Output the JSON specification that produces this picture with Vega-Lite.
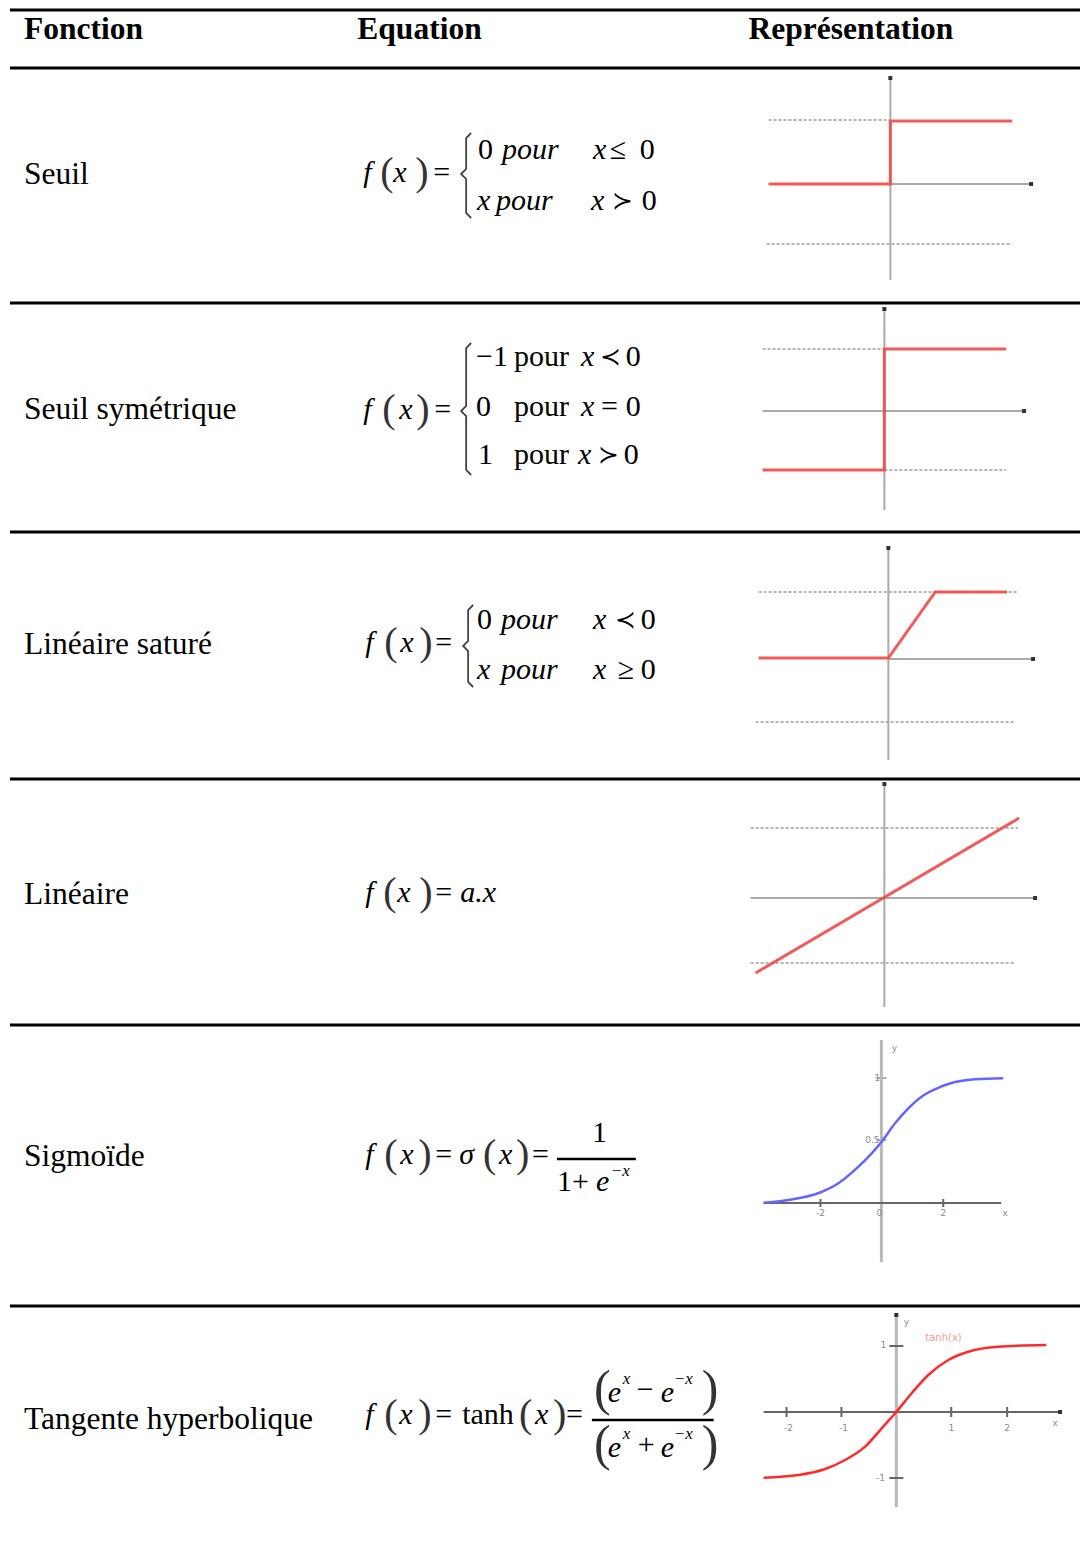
{
  "$schema": "https://vega.github.io/schema/vega-lite/v6.json",
  "width": 1082,
  "height": 1545,
  "autosize": {"type": "fit", "contains": "padding"},
  "padding": 0,
  "background": "white",
  "config": {"view": {"stroke": null}},
  "datasets": {
    "hrules": [
      {"x": 10, "x2": 1082, "y": 10},
      {"x": 10, "x2": 1082, "y": 68},
      {"x": 10, "x2": 1082, "y": 303},
      {"x": 10, "x2": 1082, "y": 532},
      {"x": 10, "x2": 1082, "y": 779},
      {"x": 10, "x2": 1082, "y": 1025},
      {"x": 10, "x2": 1082, "y": 1306}
    ],
    "axesLight": [
      {"x": 892, "y": 78, "x2": 892, "y2": 280},
      {"x": 892, "y": 184, "x2": 1033, "y2": 184},
      {"x": 886, "y": 308, "x2": 886, "y2": 510},
      {"x": 764, "y": 411, "x2": 1026, "y2": 411},
      {"x": 890, "y": 547, "x2": 890, "y2": 760},
      {"x": 890, "y": 659, "x2": 1035, "y2": 659},
      {"x": 886, "y": 783, "x2": 886, "y2": 1007},
      {"x": 752, "y": 898, "x2": 1037, "y2": 898},
      {"x": 878, "y": 1078, "x2": 888, "y2": 1078},
      {"x": 878, "y": 1140, "x2": 888, "y2": 1140}
    ],
    "axesThick": [
      {"x": 883, "y": 1040, "x2": 883, "y2": 1262},
      {"x": 898, "y": 1313, "x2": 898, "y2": 1507}
    ],
    "axesDark": [
      {"x": 765, "y": 1203, "x2": 1003, "y2": 1203},
      {"x": 822, "y": 1199, "x2": 822, "y2": 1207},
      {"x": 945, "y": 1199, "x2": 945, "y2": 1207},
      {"x": 765, "y": 1412, "x2": 1062, "y2": 1412},
      {"x": 788, "y": 1407, "x2": 788, "y2": 1417},
      {"x": 843, "y": 1407, "x2": 843, "y2": 1417},
      {"x": 953, "y": 1407, "x2": 953, "y2": 1417},
      {"x": 1009, "y": 1407, "x2": 1009, "y2": 1417},
      {"x": 891, "y": 1346, "x2": 905, "y2": 1346},
      {"x": 891, "y": 1478, "x2": 905, "y2": 1478}
    ],
    "dashed": [
      {"x": 770, "y": 120, "x2": 891, "y2": 120},
      {"x": 768, "y": 244, "x2": 1014, "y2": 244},
      {"x": 764, "y": 349, "x2": 886, "y2": 349},
      {"x": 886, "y": 470, "x2": 1008, "y2": 470},
      {"x": 760, "y": 592, "x2": 1020, "y2": 592},
      {"x": 757, "y": 722, "x2": 1017, "y2": 722},
      {"x": 752, "y": 828, "x2": 1020, "y2": 828},
      {"x": 752, "y": 963, "x2": 1017, "y2": 963}
    ],
    "fracs": [
      {"x": 558, "y": 1159, "x2": 637, "y2": 1159},
      {"x": 593, "y": 1420, "x2": 715, "y2": 1420}
    ],
    "tips": [
      {"x": 892, "y": 78}, {"x": 1033, "y": 184},
      {"x": 886, "y": 309}, {"x": 1026, "y": 411},
      {"x": 890, "y": 548}, {"x": 1035, "y": 659},
      {"x": 886, "y": 784}, {"x": 1037, "y": 898},
      {"x": 1062, "y": 1412}, {"x": 898, "y": 1315}
    ],
    "steps": [
      {"g": "c1", "i": 0, "x": 770, "y": 184},
      {"g": "c1", "i": 1, "x": 892, "y": 184},
      {"g": "c1", "i": 2, "x": 892, "y": 121},
      {"g": "c1", "i": 3, "x": 1014, "y": 121},
      {"g": "c2", "i": 0, "x": 764, "y": 470},
      {"g": "c2", "i": 1, "x": 886, "y": 470},
      {"g": "c2", "i": 2, "x": 886, "y": 349},
      {"g": "c2", "i": 3, "x": 1008, "y": 349},
      {"g": "c3", "i": 0, "x": 760, "y": 658},
      {"g": "c3", "i": 1, "x": 890, "y": 658},
      {"g": "c3", "i": 2, "x": 937, "y": 592},
      {"g": "c3", "i": 3, "x": 1009, "y": 592},
      {"g": "c4", "i": 0, "x": 757, "y": 973},
      {"g": "c4", "i": 1, "x": 1021, "y": 818}
    ],
    "sigmoid": [
      {"i": 0, "x": 765, "y": 1202.7},
      {"i": 1, "x": 793.3, "y": 1199.5},
      {"i": 2, "x": 821.7, "y": 1192.5},
      {"i": 3, "x": 840, "y": 1183.3},
      {"i": 4, "x": 860, "y": 1166.7},
      {"i": 5, "x": 873.3, "y": 1153.3},
      {"i": 6, "x": 883.3, "y": 1141.7},
      {"i": 7, "x": 896.7, "y": 1123.3},
      {"i": 8, "x": 910, "y": 1108.3},
      {"i": 9, "x": 923.3, "y": 1096.7},
      {"i": 10, "x": 936.7, "y": 1089.3},
      {"i": 11, "x": 950, "y": 1084},
      {"i": 12, "x": 976.7, "y": 1079.3},
      {"i": 13, "x": 1005, "y": 1078.3}
    ],
    "tanh": [
      {"i": 0, "x": 765, "y": 1477.7},
      {"i": 1, "x": 800, "y": 1475},
      {"i": 2, "x": 826.7, "y": 1469},
      {"i": 3, "x": 846.7, "y": 1460},
      {"i": 4, "x": 866.7, "y": 1446.7},
      {"i": 5, "x": 883.3, "y": 1428.3},
      {"i": 6, "x": 897.7, "y": 1412.3},
      {"i": 7, "x": 913.3, "y": 1393.3},
      {"i": 8, "x": 930, "y": 1375},
      {"i": 9, "x": 950, "y": 1360},
      {"i": 10, "x": 970, "y": 1351.7},
      {"i": 11, "x": 1000, "y": 1346.7},
      {"i": 12, "x": 1048.3, "y": 1345}
    ],
    "braces": [
      {"g": "b1", "i": 0, "x": 472, "y": 133},
      {"g": "b1", "i": 1, "x": 467, "y": 138},
      {"g": "b1", "i": 2, "x": 467, "y": 169},
      {"g": "b1", "i": 3, "x": 462, "y": 174},
      {"g": "b1", "i": 4, "x": 467, "y": 179},
      {"g": "b1", "i": 5, "x": 467, "y": 213},
      {"g": "b1", "i": 6, "x": 472, "y": 218},
      {"g": "b2", "i": 0, "x": 472, "y": 343},
      {"g": "b2", "i": 1, "x": 467, "y": 348},
      {"g": "b2", "i": 2, "x": 467, "y": 406},
      {"g": "b2", "i": 3, "x": 462, "y": 411},
      {"g": "b2", "i": 4, "x": 467, "y": 416},
      {"g": "b2", "i": 5, "x": 467, "y": 470},
      {"g": "b2", "i": 6, "x": 472, "y": 475},
      {"g": "b3", "i": 0, "x": 474, "y": 605},
      {"g": "b3", "i": 1, "x": 469, "y": 610},
      {"g": "b3", "i": 2, "x": 469, "y": 641},
      {"g": "b3", "i": 3, "x": 464, "y": 646},
      {"g": "b3", "i": 4, "x": 469, "y": 651},
      {"g": "b3", "i": 5, "x": 469, "y": 682},
      {"g": "b3", "i": 6, "x": 474, "y": 687}
    ],
    "txt": [
      {"r": "h", "t": "Fonction", "x": 24, "y": 30},
      {"r": "h", "t": "Equation", "x": 358, "y": 30},
      {"r": "h", "t": "Représentation", "x": 750, "y": 30},
      {"r": "n", "t": "Seuil", "x": 24, "y": 175},
      {"r": "n", "t": "Seuil symétrique", "x": 24, "y": 410},
      {"r": "n", "t": "Linéaire saturé", "x": 24, "y": 645},
      {"r": "n", "t": "Linéaire", "x": 24, "y": 895},
      {"r": "n", "t": "Sigmoïde", "x": 24, "y": 1157},
      {"r": "n", "t": "Tangente hyperbolique", "x": 24, "y": 1420},

      {"r": "ei", "t": "f", "x": 364, "y": 173},
      {"r": "ep", "t": "(", "x": 381, "y": 173},
      {"r": "ei", "t": "x", "x": 394, "y": 173},
      {"r": "ep", "t": ")", "x": 416, "y": 173},
      {"r": "eu", "t": "=", "x": 434, "y": 173},
      {"r": "eu", "t": "0", "x": 479, "y": 150},
      {"r": "ei", "t": "pour", "x": 503, "y": 150},
      {"r": "ei", "t": "x", "x": 594, "y": 150},
      {"r": "eu", "t": "≤", "x": 611, "y": 150},
      {"r": "eu", "t": "0", "x": 641, "y": 150},
      {"r": "ei", "t": "x", "x": 478, "y": 201},
      {"r": "ei", "t": "pour", "x": 497, "y": 201},
      {"r": "ei", "t": "x", "x": 592, "y": 201},
      {"r": "rel", "t": "≻", "x": 613, "y": 201},
      {"r": "eu", "t": "0", "x": 643, "y": 201},

      {"r": "ei", "t": "f", "x": 364, "y": 410},
      {"r": "ep", "t": "(", "x": 383, "y": 410},
      {"r": "ei", "t": "x", "x": 400, "y": 410},
      {"r": "ep", "t": ")", "x": 417, "y": 410},
      {"r": "eu", "t": "=", "x": 435, "y": 410},
      {"r": "eu", "t": "−1", "x": 477, "y": 357},
      {"r": "eu", "t": "pour", "x": 515, "y": 357},
      {"r": "ei", "t": "x", "x": 582, "y": 357},
      {"r": "rel", "t": "≺", "x": 601, "y": 357},
      {"r": "eu", "t": "0", "x": 627, "y": 357},
      {"r": "eu", "t": "0", "x": 477, "y": 407},
      {"r": "eu", "t": "pour", "x": 515, "y": 407},
      {"r": "ei", "t": "x", "x": 582, "y": 407},
      {"r": "eu", "t": "=", "x": 602, "y": 407},
      {"r": "eu", "t": "0", "x": 627, "y": 407},
      {"r": "eu", "t": "1", "x": 479, "y": 455},
      {"r": "eu", "t": "pour", "x": 515, "y": 455},
      {"r": "ei", "t": "x", "x": 579, "y": 455},
      {"r": "rel", "t": "≻", "x": 599, "y": 455},
      {"r": "eu", "t": "0", "x": 625, "y": 455},

      {"r": "ei", "t": "f", "x": 366, "y": 643},
      {"r": "ep", "t": "(", "x": 385, "y": 643},
      {"r": "ei", "t": "x", "x": 401, "y": 643},
      {"r": "ep", "t": ")", "x": 420, "y": 643},
      {"r": "eu", "t": "=", "x": 436, "y": 643},
      {"r": "eu", "t": "0", "x": 478, "y": 620},
      {"r": "ei", "t": "pour", "x": 502, "y": 620},
      {"r": "ei", "t": "x", "x": 594, "y": 620},
      {"r": "rel", "t": "≺", "x": 616, "y": 620},
      {"r": "eu", "t": "0", "x": 642, "y": 620},
      {"r": "ei", "t": "x", "x": 478, "y": 670},
      {"r": "ei", "t": "pour", "x": 502, "y": 670},
      {"r": "ei", "t": "x", "x": 594, "y": 670},
      {"r": "eu", "t": "≥", "x": 619, "y": 670},
      {"r": "eu", "t": "0", "x": 642, "y": 670},

      {"r": "ei", "t": "f", "x": 366, "y": 893},
      {"r": "ep", "t": "(", "x": 384, "y": 893},
      {"r": "ei", "t": "x", "x": 398, "y": 893},
      {"r": "ep", "t": ")", "x": 420, "y": 893},
      {"r": "eu", "t": "=", "x": 436, "y": 893},
      {"r": "ei", "t": "a.x", "x": 461, "y": 893},

      {"r": "ei", "t": "f", "x": 366, "y": 1155},
      {"r": "ep", "t": "(", "x": 385, "y": 1155},
      {"r": "ei", "t": "x", "x": 401, "y": 1155},
      {"r": "ep", "t": ")", "x": 419, "y": 1155},
      {"r": "eu", "t": "=", "x": 436, "y": 1155},
      {"r": "ei", "t": "σ", "x": 460, "y": 1155},
      {"r": "ep", "t": "(", "x": 484, "y": 1155},
      {"r": "ei", "t": "x", "x": 500, "y": 1155},
      {"r": "ep", "t": ")", "x": 517, "y": 1155},
      {"r": "eu", "t": "=", "x": 533, "y": 1155},
      {"r": "eu", "t": "1", "x": 593, "y": 1133},
      {"r": "eu", "t": "1+", "x": 558, "y": 1182},
      {"r": "ei", "t": "e", "x": 597, "y": 1182},
      {"r": "sup", "t": "−x", "x": 612, "y": 1171},

      {"r": "ei", "t": "f", "x": 366, "y": 1415},
      {"r": "ep", "t": "(", "x": 385, "y": 1415},
      {"r": "ei", "t": "x", "x": 400, "y": 1415},
      {"r": "ep", "t": ")", "x": 419, "y": 1415},
      {"r": "eu", "t": "=", "x": 436, "y": 1415},
      {"r": "eu", "t": "tanh", "x": 463, "y": 1415},
      {"r": "ep", "t": "(", "x": 520, "y": 1415},
      {"r": "ei", "t": "x", "x": 536, "y": 1415},
      {"r": "ep", "t": ")", "x": 554, "y": 1415},
      {"r": "eu", "t": "=", "x": 567, "y": 1415},
      {"r": "eb", "t": "(", "x": 595, "y": 1390},
      {"r": "ei", "t": "e", "x": 609, "y": 1393},
      {"r": "sup", "t": "x", "x": 624, "y": 1379},
      {"r": "eu", "t": "−", "x": 638, "y": 1390},
      {"r": "ei", "t": "e", "x": 662, "y": 1393},
      {"r": "sup", "t": "−x", "x": 675, "y": 1379},
      {"r": "eb", "t": ")", "x": 703, "y": 1390},
      {"r": "eb", "t": "(", "x": 595, "y": 1445},
      {"r": "ei", "t": "e", "x": 609, "y": 1448},
      {"r": "sup", "t": "x", "x": 624, "y": 1434},
      {"r": "eu", "t": "+", "x": 639, "y": 1445},
      {"r": "ei", "t": "e", "x": 662, "y": 1448},
      {"r": "sup", "t": "−x", "x": 675, "y": 1434},
      {"r": "eb", "t": ")", "x": 703, "y": 1445},

      {"r": "tk", "t": "y", "x": 896, "y": 1048},
      {"r": "tk", "t": "x", "x": 1007, "y": 1213},
      {"r": "tk", "t": "-2", "x": 822, "y": 1213},
      {"r": "tk", "t": "0", "x": 881, "y": 1213},
      {"r": "tk", "t": "2", "x": 945, "y": 1213},
      {"r": "tk", "t": "1", "x": 879, "y": 1078},
      {"r": "tk", "t": "0.5", "x": 874, "y": 1140},
      {"r": "tk", "t": "y", "x": 908, "y": 1322},
      {"r": "tk", "t": "x", "x": 1057, "y": 1423},
      {"r": "tk", "t": "-2", "x": 790, "y": 1428},
      {"r": "tk", "t": "-1", "x": 845, "y": 1428},
      {"r": "tk", "t": "1", "x": 953, "y": 1428},
      {"r": "tk", "t": "2", "x": 1009, "y": 1428},
      {"r": "tk", "t": "1", "x": 885, "y": 1345},
      {"r": "tk", "t": "-1", "x": 882, "y": 1478},
      {"r": "tl", "t": "tanh(x)", "x": 927, "y": 1338}
    ]
  },
  "encoding": {
    "x": {"field": "x", "type": "quantitative", "scale": {"domain": [0, 1082], "nice": false, "zero": false}, "axis": null},
    "y": {"field": "y", "type": "quantitative", "scale": {"domain": [0, 1545], "nice": false, "zero": false, "reverse": true}, "axis": null}
  },
  "layer": [
    {
      "data": {"name": "hrules"},
      "mark": {"type": "rule", "color": "black", "strokeWidth": 3},
      "encoding": {"x2": {"field": "x2"}}
    },
    {
      "data": {"name": "dashed"},
      "mark": {"type": "rule", "color": "#b4b4b4", "strokeWidth": 2, "strokeDash": [3, 2]},
      "encoding": {"x2": {"field": "x2"}, "y2": {"field": "y2"}}
    },
    {
      "data": {"name": "axesLight"},
      "mark": {"type": "rule", "color": "#aaaaaa", "strokeWidth": 2},
      "encoding": {"x2": {"field": "x2"}, "y2": {"field": "y2"}}
    },
    {
      "data": {"name": "axesThick"},
      "mark": {"type": "rule", "color": "#b8b8b8", "strokeWidth": 3},
      "encoding": {"x2": {"field": "x2"}, "y2": {"field": "y2"}}
    },
    {
      "data": {"name": "axesDark"},
      "mark": {"type": "rule", "color": "#666666", "strokeWidth": 2},
      "encoding": {"x2": {"field": "x2"}, "y2": {"field": "y2"}}
    },
    {
      "data": {"name": "tips"},
      "mark": {"type": "square", "color": "#333333", "size": 16, "opacity": 1, "filled": true}
    },
    {
      "data": {"name": "steps"},
      "mark": {"type": "line", "color": "#f24848", "strokeWidth": 3, "opacity": 0.9},
      "encoding": {"detail": {"field": "g"}, "order": {"field": "i"}}
    },
    {
      "data": {"name": "sigmoid"},
      "mark": {"type": "line", "color": "#6565ff", "strokeWidth": 2.5, "interpolate": "monotone"},
      "encoding": {"order": {"field": "i"}}
    },
    {
      "data": {"name": "tanh"},
      "mark": {"type": "line", "color": "#ff2a2a", "strokeWidth": 2.5, "interpolate": "monotone"},
      "encoding": {"order": {"field": "i"}}
    },
    {
      "data": {"name": "braces"},
      "mark": {"type": "line", "color": "#444444", "strokeWidth": 1.8},
      "encoding": {"detail": {"field": "g"}, "order": {"field": "i"}}
    },
    {
      "data": {"name": "fracs"},
      "mark": {"type": "rule", "color": "black", "strokeWidth": 2.5},
      "encoding": {"x2": {"field": "x2"}, "y2": {"field": "y2"}}
    },
    {
      "data": {"name": "txt"},
      "transform": [{"filter": "datum.r === 'h'"}],
      "mark": {"type": "text", "font": "Liberation Serif", "fontSize": 31.5, "fontWeight": "bold", "align": "left", "baseline": "middle", "color": "black"},
      "encoding": {"text": {"field": "t"}}
    },
    {
      "data": {"name": "txt"},
      "transform": [{"filter": "datum.r === 'n'"}],
      "mark": {"type": "text", "font": "Liberation Serif", "fontSize": 31.5, "align": "left", "baseline": "middle", "color": "black"},
      "encoding": {"text": {"field": "t"}}
    },
    {
      "data": {"name": "txt"},
      "transform": [{"filter": "datum.r === 'ei'"}],
      "mark": {"type": "text", "font": "Liberation Serif", "fontSize": 30, "fontStyle": "italic", "align": "left", "baseline": "middle", "color": "black"},
      "encoding": {"text": {"field": "t"}}
    },
    {
      "data": {"name": "txt"},
      "transform": [{"filter": "datum.r === 'eu'"}],
      "mark": {"type": "text", "font": "Liberation Serif", "fontSize": 30, "align": "left", "baseline": "middle", "color": "black"},
      "encoding": {"text": {"field": "t"}}
    },
    {
      "data": {"name": "txt"},
      "transform": [{"filter": "datum.r === 'rel'"}],
      "mark": {"type": "text", "font": "DejaVu Serif", "fontSize": 25, "align": "left", "baseline": "middle", "color": "black"},
      "encoding": {"text": {"field": "t"}}
    },
    {
      "data": {"name": "txt"},
      "transform": [{"filter": "datum.r === 'ep'"}],
      "mark": {"type": "text", "font": "Liberation Serif", "fontSize": 40, "align": "left", "baseline": "middle", "color": "#333333"},
      "encoding": {"text": {"field": "t"}}
    },
    {
      "data": {"name": "txt"},
      "transform": [{"filter": "datum.r === 'eb'"}],
      "mark": {"type": "text", "font": "Liberation Serif", "fontSize": 50, "align": "left", "baseline": "middle", "color": "#333333"},
      "encoding": {"text": {"field": "t"}}
    },
    {
      "data": {"name": "txt"},
      "transform": [{"filter": "datum.r === 'sup'"}],
      "mark": {"type": "text", "font": "Liberation Serif", "fontSize": 17, "fontStyle": "italic", "align": "left", "baseline": "middle", "color": "black"},
      "encoding": {"text": {"field": "t"}}
    },
    {
      "data": {"name": "txt"},
      "transform": [{"filter": "datum.r === 'tk'"}],
      "mark": {"type": "text", "font": "DejaVu Sans", "fontSize": 9, "align": "center", "baseline": "middle", "color": "#8a8a8a"},
      "encoding": {"text": {"field": "t"}}
    },
    {
      "data": {"name": "txt"},
      "transform": [{"filter": "datum.r === 'tl'"}],
      "mark": {"type": "text", "font": "DejaVu Sans", "fontSize": 10, "align": "left", "baseline": "middle", "color": "#f59a9a"},
      "encoding": {"text": {"field": "t"}}
    }
  ]
}
